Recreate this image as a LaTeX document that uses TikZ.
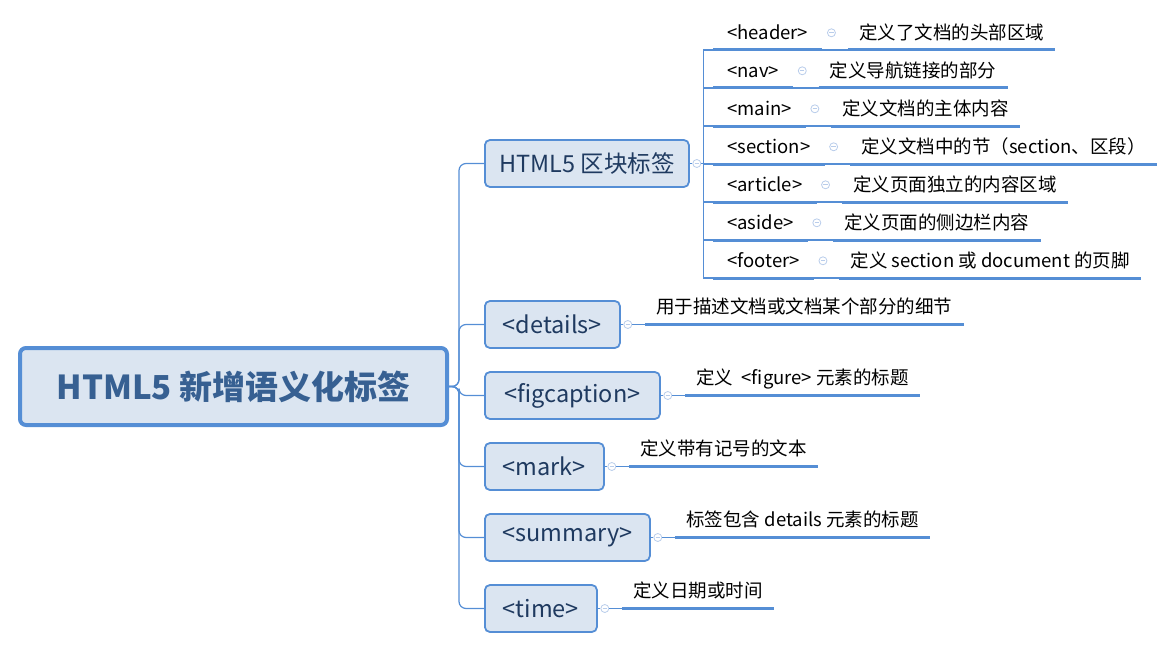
\documentclass[tikz,border=0pt]{standalone}
\usepackage{fontspec}
\setmainfont{Noto Sans CJK SC}
\usepackage{tikz}
\usetikzlibrary{positioning}

\definecolor{topicline}{HTML}{558ED5}
\definecolor{topicfill}{HTML}{DBE5F1}
\definecolor{roottext}{HTML}{376092}
\definecolor{subtext}{HTML}{1F3A60}
\definecolor{foldline}{HTML}{B9CDEB}

\tikzset{
  rootbox/.style={draw=topicline, fill=topicfill, line width=4pt, rounded corners=6pt,
    minimum width=427pt, minimum height=77pt, text=roottext,
    font=\fontsize{33}{36}\selectfont\bfseries},
  topicbox/.style={draw=topicline, fill=topicfill, line width=1.8pt, rounded corners=5pt,
    minimum height=47pt, anchor=west, text=subtext, font=\fontsize{23.5}{26}\selectfont},
  uline/.style={draw=topicline, line width=3pt},
  ulabel/.style={anchor=south west, inner ysep=0pt, minimum height=34pt, text height=15pt,
    text depth=2pt, font=\fontsize{18.5}{20}\selectfont,
    append after command={(\tikzlastnode.south west) edge[uline] (\tikzlastnode.south east)}},
  tagtext/.style={ulabel, inner xsep=14pt},
  desctext/.style={ulabel, inner xsep=11pt},
  link/.style={draw=topicline, line width=1.2pt},
  fold/.style={circle, draw=foldline, fill=white, line width=0.8pt, minimum size=8pt, inner sep=0pt,
    path picture={\draw[foldline, line width=0.8pt] ([xshift=-2.2pt]path picture bounding box.center)
      -- ([xshift=2.2pt]path picture bounding box.center);}}
}

\begin{document}
\begin{tikzpicture}[x=1pt, y=-1pt]
\useasboundingbox (0,0) rectangle (1166,650);

\node[rootbox] (root) at (233.5,386.5) {HTML5 新增语义化标签};

\node[topicbox, minimum width=204pt] (blk) at (484,163.5) {HTML5 区块标签};
\node[topicbox, minimum width=135pt] (dt) at (484,324.5) {<details>};
\node[topicbox, minimum width=175pt] (fc) at (484,395.5) {<figcaption>};
\node[topicbox, minimum width=119pt] (mk) at (484,466.5) {<mark>};
\node[topicbox, minimum width=165pt] (sm) at (484,537.5) {<summary>};
\node[topicbox, minimum width=112pt] (tm) at (484,608.5) {<time>};

% section tags
\node[fold, xshift=7pt] (blkm) at (blk.east) {};
\node[tagtext] (hdr) at (713,50) {<header>};
\node[fold, xshift=9pt] (hdrm) at (hdr.east) {};
\node[desctext, xshift=12pt] (hdrd) at (hdrm.east |- hdr.south) {定义了文档的头部区域};
\node[tagtext] (nav) at (713,88) {<nav>};
\node[fold, xshift=9pt] (navm) at (nav.east) {};
\node[desctext, xshift=12pt] (navd) at (navm.east |- nav.south) {定义导航链接的部分};
\node[tagtext] (mn) at (713,126) {<main>};
\node[fold, xshift=9pt] (mnm) at (mn.east) {};
\node[desctext, xshift=12pt] (mnd) at (mnm.east |- mn.south) {定义文档的主体内容};
\node[tagtext] (sec) at (713,164) {<section>};
\node[fold, xshift=9pt] (secm) at (sec.east) {};
\node[desctext, xshift=12pt] (secd) at (secm.east |- sec.south) {定义文档中的节（section、区段）};
\node[tagtext] (art) at (713,202) {<article>};
\node[fold, xshift=9pt] (artm) at (art.east) {};
\node[desctext, xshift=12pt] (artd) at (artm.east |- art.south) {定义页面独立的内容区域};
\node[tagtext] (asd) at (713,240) {<aside>};
\node[fold, xshift=9pt] (asdm) at (asd.east) {};
\node[desctext, xshift=12pt] (asdd) at (asdm.east |- asd.south) {定义页面的侧边栏内容};
\node[tagtext] (ftr) at (713,278) {<footer>};
\node[fold, xshift=9pt] (ftrm) at (ftr.east) {};
\node[desctext, xshift=12pt] (ftrd) at (ftrm.east |- ftr.south) {定义 section 或 document 的页脚};

% other tags
\node[fold, xshift=7pt] (dtm) at (dt.east) {};
\node[desctext, xshift=13pt] (dtd) at (dtm.east) {用于描述文档或文档某个部分的细节};
\node[fold, xshift=7pt] (fcm) at (fc.east) {};
\node[desctext, xshift=13pt] (fcd) at (fcm.east) {定义 \ <figure> 元素的标题};
\node[fold, xshift=7pt] (mkm) at (mk.east) {};
\node[desctext, xshift=13pt] (mkd) at (mkm.east) {定义带有记号的文本};
\node[fold, xshift=7pt] (smm) at (sm.east) {};
\node[desctext, xshift=13pt] (smd) at (smm.east) {标签包含 details 元素的标题};
\node[fold, xshift=7pt] (tmm) at (tm.east) {};
\node[desctext, xshift=13pt] (tmd) at (tmm.east) {定义日期或时间};

\draw[link, rounded corners=7pt] (root.east) -- ++(10,0) |- (blk.west);
\draw[link, rounded corners=7pt] (root.east) -- ++(10,0) |- (dt.west);
\draw[link, rounded corners=7pt] (root.east) -- ++(10,0) |- (fc.west);
\draw[link, rounded corners=7pt] (root.east) -- ++(10,0) |- (mk.west);
\draw[link, rounded corners=7pt] (root.east) -- ++(10,0) |- (sm.west);
\draw[link, rounded corners=7pt] (root.east) -- ++(10,0) |- (tm.west);

\draw[link] (blk.east) -- (blkm.west);
\draw[link] (blkm.east) -- ++(2,0) |- (hdr.south west);
\draw[link] (blkm.east) -- ++(2,0) |- (nav.south west);
\draw[link] (blkm.east) -- ++(2,0) |- (mn.south west);
\draw[link] (blkm.east) -- ++(2,0) |- (sec.south west);
\draw[link] (blkm.east) -- ++(2,0) |- (art.south west);
\draw[link] (blkm.east) -- ++(2,0) |- (asd.south west);
\draw[link] (blkm.east) -- ++(2,0) |- (ftr.south west);
\draw[link] (hdr.south east) -- (hdrd.south west);
\draw[link] (nav.south east) -- (navd.south west);
\draw[link] (mn.south east) -- (mnd.south west);
\draw[link] (sec.south east) -- (secd.south west);
\draw[link] (art.south east) -- (artd.south west);
\draw[link] (asd.south east) -- (asdd.south west);
\draw[link] (ftr.south east) -- (ftrd.south west);

\draw[link] (dt.east) -- (dtm.west);
\draw[link] (dtm.east) -- (dtd.south west);
\draw[link] (fc.east) -- (fcm.west);
\draw[link] (fcm.east) -- (fcd.south west);
\draw[link] (mk.east) -- (mkm.west);
\draw[link] (mkm.east) -- (mkd.south west);
\draw[link] (sm.east) -- (smm.west);
\draw[link] (smm.east) -- (smd.south west);
\draw[link] (tm.east) -- (tmm.west);
\draw[link] (tmm.east) -- (tmd.south west);
\end{tikzpicture}
\end{document}
